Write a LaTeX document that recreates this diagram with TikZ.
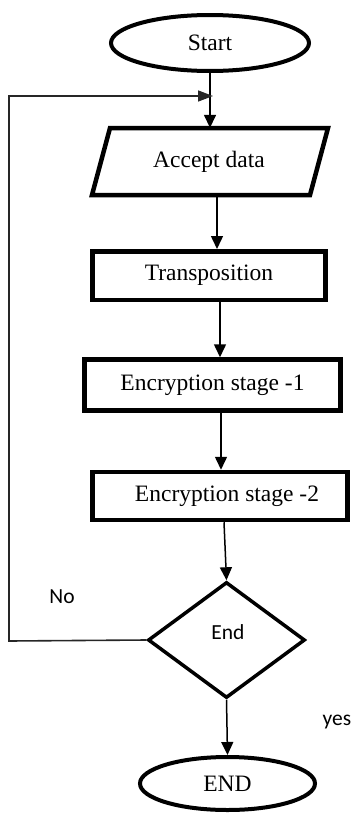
\documentclass[tikz,border=0pt]{standalone}
\usepackage{fontspec}
\setmainfont{Liberation Serif}
\newfontfamily\calfont{Carlito}
\usetikzlibrary{shapes.geometric,arrows.meta}
\begin{document}
\begin{tikzpicture}[x=1pt,y=-1pt,
  txt/.style={font=\fontsize{23.5}{27}\selectfont, inner sep=0pt},
  sanstxt/.style={font=\calfont\fontsize{21.5}{25}\selectfont, inner sep=0pt},
  term/.style={ellipse, draw, line width=4pt, inner sep=0pt, txt},
  proc/.style={rectangle, draw, line width=4.5pt, inner sep=0pt, txt},
  dec/.style={diamond, draw, line width=3.5pt, inner sep=0pt, minimum width=157pt, minimum height=116pt},
  arr/.style={line width=1.5pt, -{Triangle[length=13pt,width=12pt]}},
  loopline/.style={line width=1.6pt, draw=black!85, -{Triangle[length=15pt,width=11pt]}}
]
\useasboundingbox (0,0) rectangle (353,814);

% Start
\node[term, minimum width=198pt, minimum height=56pt] (start) at (210,43) {Start};

% Accept data (parallelogram)
\node[txt, minimum width=218pt, minimum height=67pt] (acc) at (209,161.5) {Accept data};
\draw[line width=4.5pt, line join=miter] (110,128) -- (328,128) -- (310,195) -- (92,195) -- cycle;

% Process boxes
\node[proc, minimum width=233pt, minimum height=48.5pt] (trans) at (209,275.5) {Transposition};
\node[proc, minimum width=256pt, minimum height=51pt] (enc1) at (212.5,385) {Encryption stage -1};
\node[proc, minimum width=255pt, minimum height=48pt] (enc2) at (220,496) {\hspace*{14pt}Encryption stage -2};

% Decision
\node[dec] (dec) at (226.5,640) {};
\node[sanstxt] (dectxt) at (228,632) {End};

% END terminal
\node[term, minimum width=175pt, minimum height=53pt] (endn) at (227.5,783.5) {END};

% Labels
\node[sanstxt] (nolab) at (62,597) {No};
\node[sanstxt] (yeslab) at (337,722) {yes};

% Connectors
\draw[arr] (start.south) -- ([xshift=1pt]acc.north);
\draw[arr] ([xshift=8pt]acc.south) -- ([xshift=8pt]trans.north);
\draw[arr] ([xshift=11pt]trans.south) -- ([xshift=7.5pt]enc1.north);
\draw[arr] ([xshift=8.5pt]enc1.south) -- ([xshift=1pt]enc2.north);
\draw[arr] ([xshift=4pt]enc2.south) -- (dec.north);
\draw[arr] (dec.south) -- (endn.north);

% Loop back
\coordinate (lp) at (9,641);
\coordinate (join) at (213,96);
\draw[loopline] (dec.west) -- (lp) |- (join);
\end{tikzpicture}
\end{document}
